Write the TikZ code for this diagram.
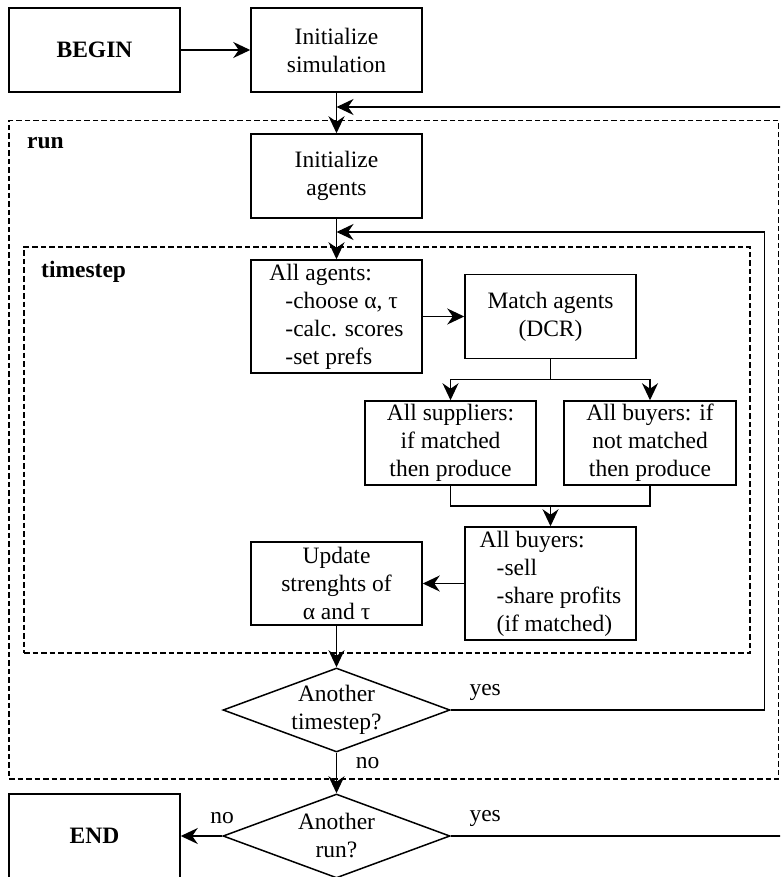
\documentclass[tikz,border=0pt]{standalone}
\usepackage{fontspec}
\setmainfont{Liberation Serif}
\usetikzlibrary{shapes.geometric,arrows.meta}
\tikzset{
  every node/.style={font=\fontsize{23.5}{28}\selectfont},
  box/.style={draw, line width=1.5pt, rectangle, minimum width=171pt, minimum height=84pt, inner sep=0pt, align=center},
  dec/.style={draw, line width=1.5pt, diamond, aspect=2.7, minimum width=227pt, minimum height=84pt, inner sep=-6pt, align=center},
  group/.style={draw, line width=1.6pt, dash pattern=on 5.5pt off 3pt, rectangle, inner sep=0pt},
  arr/.style={line width=1.5pt, -{Stealth[length=17pt,width=16pt,inset=5.5pt]}},
  ln/.style={line width=1.5pt},
  lbl/.style={inner sep=0pt},
}
\begin{document}
\begin{tikzpicture}[x=1pt,y=-1pt]
\useasboundingbox (0,0) rectangle (780,877);
\clip (0,0) rectangle (780,877);
% groups
\node[group, minimum width=769.5pt, minimum height=658.3pt] (runbox) at (393.75,449.85) {};
\node[group, minimum width=726pt, minimum height=406pt] (tsbox) at (387,450) {};
\node[lbl, anchor=base west] (runlbl) at (27,149) {\textbf{run}};
\node[lbl, anchor=base west] (tslbl) at (41,277) {\textbf{timestep}};
% nodes
\node[box] (begin) at (94.5,50) {\textbf{BEGIN}};
\node[box] (initsim) at (336.5,50) {Initialize\\simulation};
\node[box] (initag) at (336.5,176) {Initialize\\agents};
\node[box, minimum height=113pt, align=left] (allag) at (336.5,316.5) {All agents:\\\hspace*{16pt}-choose α, τ\\\hspace*{16pt}-calc. scores\\\hspace*{16pt}-set prefs};
\node[box] (match) at (550.5,316.5) {Match agents\\(DCR)};
\node[box] (supp) at (450.5,443) {All suppliers:\\if matched\\then produce};
\node[box, minimum width=172pt] (buy) at (650,443) {All buyers: if\\not matched\\then produce};
\node[box, minimum height=113pt, align=left] (allbuy) at (550.5,583.5) {All buyers:\\\hspace*{17pt}-sell\\\hspace*{17pt}-share profits\\\hspace*{17pt}(if matched)};
\node[box, minimum height=83pt] (update) at (336.5,583.5) {Update\\strenghts of\\α and τ};
\node[dec] (tsdiam) at (336.5,710) {Another\\timestep?};
\node[dec] (rundiam) at (336.5,836) {Another\\run?};
\node[box] (endbox) at (94.5,836) {\textbf{END}};
% joints
\coordinate (j1) at (336.5,107);
\coordinate (j2) at (336.5,232);
\coordinate (m2) at (550.5,506);
% connectors
\draw[arr] (begin) -- (initsim);
\draw[arr] (initsim) -- (initag);
\draw[arr] (initag) -- (allag);
\draw[arr] (allag) -- (match);
\draw[ln] (match.south) -- ++(0,20) coordinate (m1);
\draw[arr] (m1) -| (supp.north);
\draw[arr] (m1) -| (buy.north);
\draw[ln] (supp.south) |- (m2) -| (buy.south);
\draw[arr] (m2) -- (allbuy.north);
\draw[arr] (allbuy) -- (update);
\draw[arr] (update) -- (tsdiam);
\draw[arr] (tsdiam) -- node[lbl, pos=0, anchor=base west, xshift=18.5pt, yshift=-16pt] {no} (rundiam);
\draw[arr] (tsdiam.east) -- node[lbl, pos=0, anchor=base west, xshift=18pt, yshift=15pt] {yes} ++(313.5,0) |- (j2);
\draw[arr] (rundiam.east) -- node[lbl, pos=0, anchor=base west, xshift=18pt, yshift=15pt] {yes} ++(360,0) |- (j1);
\draw[arr] (rundiam) -- node[lbl, pos=0, anchor=base, yshift=13pt] {no} (endbox);
\end{tikzpicture}
\end{document}
